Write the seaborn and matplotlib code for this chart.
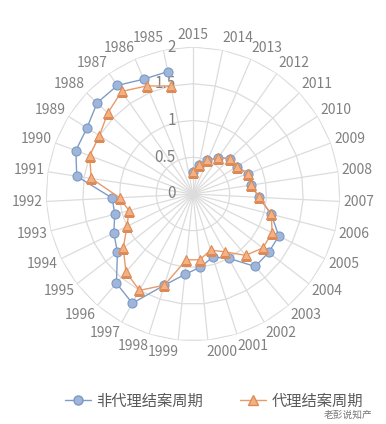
import numpy as np
import pandas as pd
import matplotlib
matplotlib.use("Agg")
import matplotlib.pyplot as plt
import seaborn as sns
from matplotlib.lines import Line2D

years = list(range(1985, 2016))
non_agent = [1.7, 1.7, 1.8, 1.8, 1.7, 1.7, 1.6, 1.1, 1.1, 1.2, 1.3, 1.6, 1.7, 1.3, 1.1, 1.0,
             0.9, 1.0, 1.3, 1.3, 1.3, 1.1, 0.9, 0.8, 0.8, 0.7, 0.7, 0.6, 0.5, 0.4, 0.3]
agent = [1.5, 1.6, 1.7, 1.6, 1.5, 1.5, 1.4, 1.0, 0.9, 1.0, 1.2, 1.4, 1.5, 1.3, 0.9, 0.9,
         0.8, 0.9, 1.1, 1.2, 1.2, 1.1, 0.9, 0.8, 0.8, 0.7, 0.7, 0.6, 0.5, 0.4, 0.3]
series_names = ["非代理结案周期", "代理结案周期"]
r_ticks = [0, 0.5, 1, 1.5, 2]
r_tick_labels = ["0", "0.5", "1", "1.5", "2"]
watermark = "老彭说知产"

sns.set_theme(style="white")
plt.rcParams['font.family'] = ['Noto Sans CJK SC', 'DejaVu Sans']

n = len(years)
# categories clockwise from top, starting with 2015
idx = [2015 - y for y in years]
theta = [2 * np.pi * i / n for i in idx]

df = pd.DataFrame({"year": years, "theta": theta,
                   series_names[0]: non_agent, series_names[1]: agent}).sort_values("theta")

W, H = 386, 424
fig = plt.figure(figsize=(W / 100, H / 100), dpi=100)
cx, cy, R = 193, 194, 147
ax = fig.add_axes([(cx - R) / W, (H - cy - R) / H, 2 * R / W, 2 * R / H], projection="polar")
ax.set_theta_zero_location("N")
ax.set_theta_direction(-1)
ax.set_ylim(0, 2)
ax.grid(False)
ax.spines["polar"].set_visible(False)
ax.set_xticks([])
ax.set_yticks([])
ax.set_facecolor("none")

grid_color = "#dcdcdc"
ring_t = np.append(np.sort(theta), 0)
for r in r_ticks[1:]:
    ax.plot(ring_t, [r] * len(ring_t), color=grid_color, lw=0.9, zorder=1)
for t in theta:
    ax.plot([t, t], [0, 2], color=grid_color, lw=0.9, zorder=1)

blue_line, blue_fill, blue_edge = "#7f9cc6", "#9fb6da", "#7b99c6"
or_line, or_fill, or_edge = "#e89a6a", "#f4b183", "#dd8a56"

sns.lineplot(data=df, x="theta", y=series_names[0], ax=ax, sort=False, color=blue_line,
             lw=1.0, marker="o", markersize=6.5, markerfacecolor=blue_fill,
             markeredgecolor=blue_edge, markeredgewidth=0.8, zorder=3)
sns.lineplot(data=df, x="theta", y=series_names[1], ax=ax, sort=False, color=or_line,
             lw=1.0, marker="^", markersize=7, markerfacecolor=or_fill,
             markeredgecolor=or_edge, markeredgewidth=0.8, zorder=4)
ax.set_xlabel("")
ax.set_ylabel("")
ax.set_ylim(0, 2)

lab_color = "#808080"
px_per_unit = R / 2.0
hw, hh, r_anchor = 14.0, 7.0, 152.0
for y, t in zip(years, theta):
    s, c = np.sin(t), np.cos(t)
    sx = 0.0 if abs(s) < 1e-9 else np.sign(s)
    px = r_anchor * s + hw * sx
    py = r_anchor * c + hh * c
    rr = np.hypot(px, py) / px_per_unit
    tt = np.arctan2(px, py)
    ax.text(tt, rr, str(y), ha="center", va="center",
            fontsize=10, color=lab_color, clip_on=False)

for r, s in zip(r_ticks, r_tick_labels):
    ax.annotate(s, xy=(0, r), xytext=(-12.5, 0), textcoords="offset points",
                ha="right", va="center", fontsize=11, color=lab_color,
                annotation_clip=False, zorder=2)

handles = [
    Line2D([], [], color=blue_line, lw=1.0, marker="o", markersize=6.5,
           markerfacecolor=blue_fill, markeredgecolor=blue_edge),
    Line2D([], [], color=or_line, lw=1.0, marker="^", markersize=7,
           markerfacecolor=or_fill, markeredgecolor=or_edge),
]
fig.legend(handles, series_names, loc="center", bbox_to_anchor=(214 / W, (H - 401) / H),
           ncol=2, frameon=False, fontsize=11, handlelength=1.7, columnspacing=2.4,
           handletextpad=0.35, labelcolor="#595959", borderpad=0, borderaxespad=0)

fig.text(372 / W, (H - 415) / H, watermark, ha="right", va="center",
         fontsize=7, color="#555555", alpha=0.8)

fig.savefig("out.png", dpi=100, facecolor="white")
